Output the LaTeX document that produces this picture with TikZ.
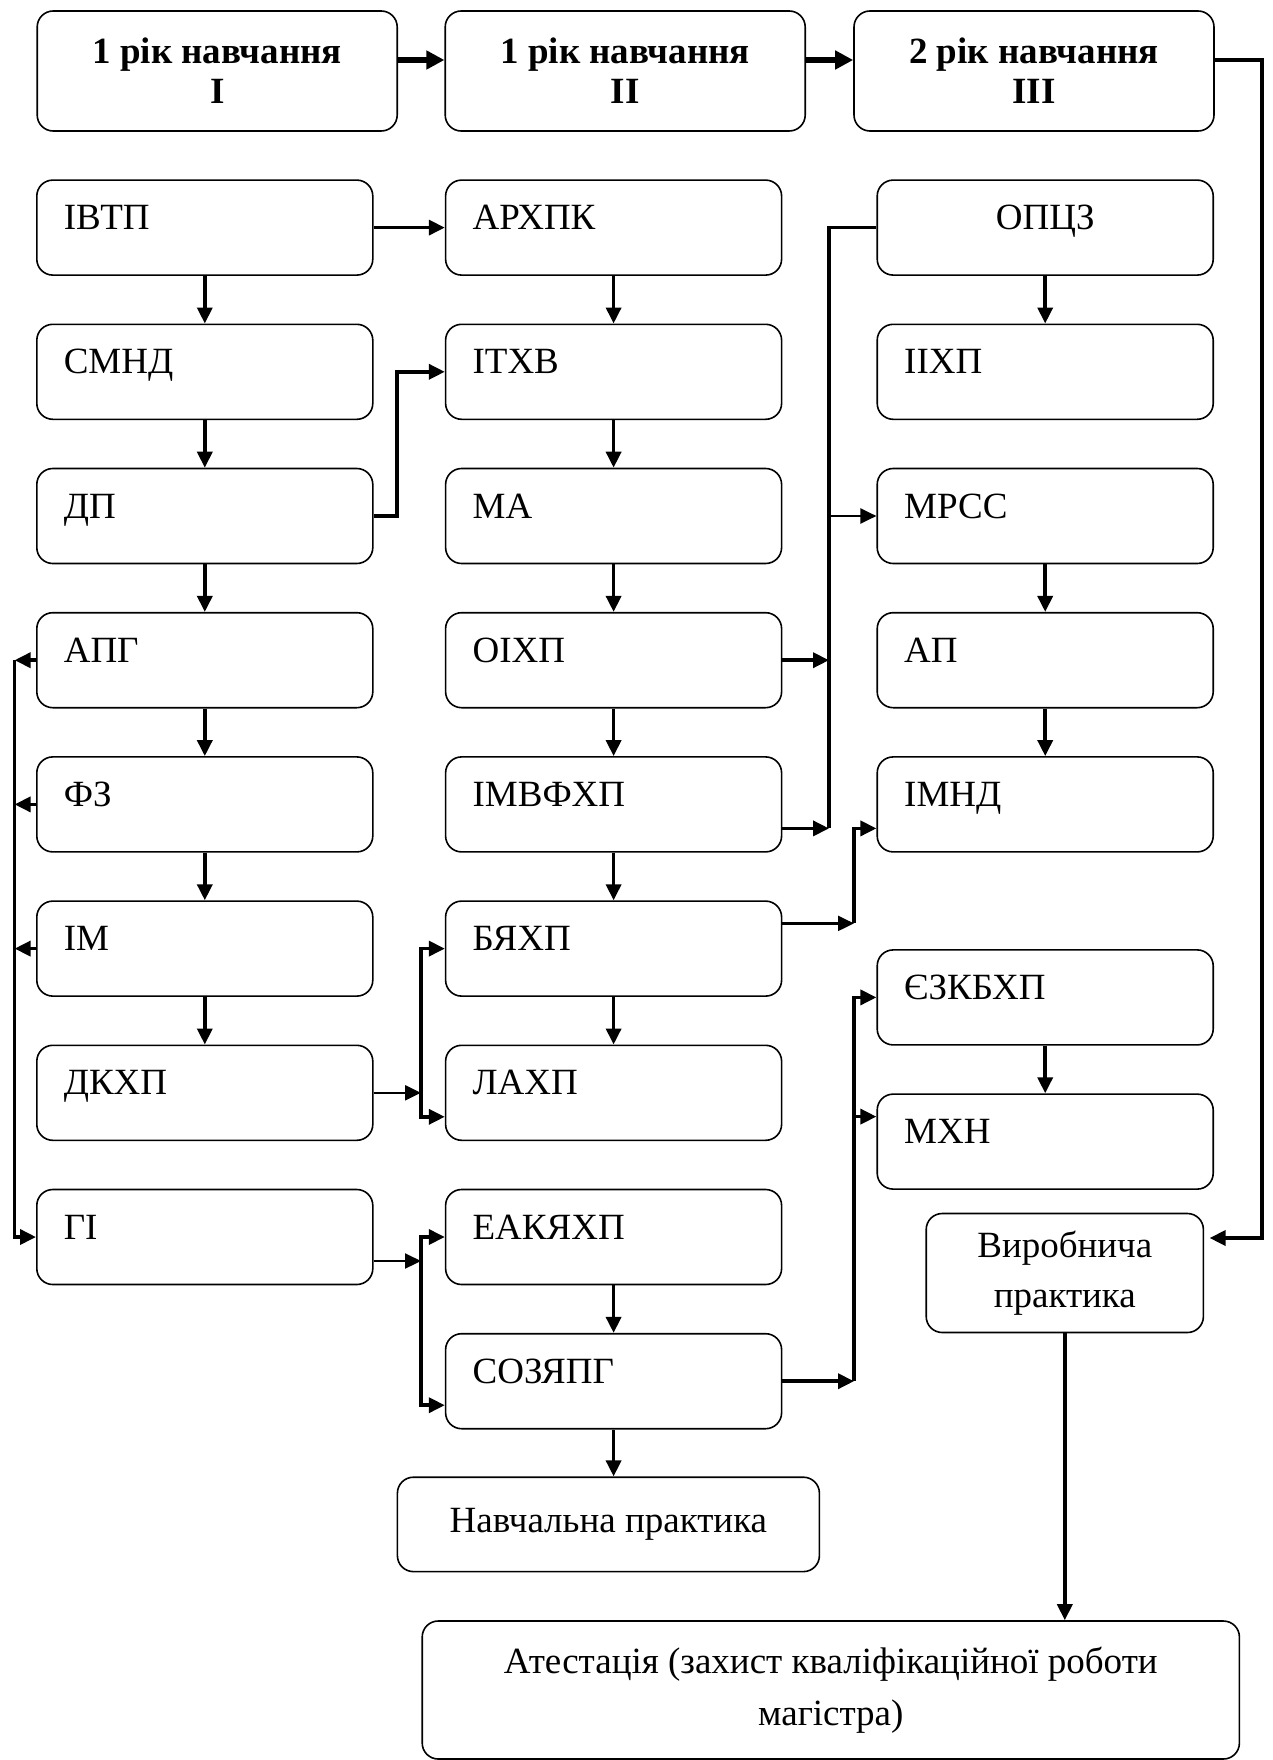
\documentclass[tikz,border=0pt]{standalone}
\usepackage{fontspec}
\setmainfont{Liberation Serif}
\usepackage{tikz}
\usetikzlibrary{arrows.meta}

\begin{document}
\begin{tikzpicture}
		[x=1pt, y=-1pt, >={Triangle[length=8pt,width=7.5pt]},
		 box/.style={draw, line width=0.8pt, rounded corners=8pt, minimum height=47.5pt,
		   text width=141pt, inner xsep=13.5pt, align=left, text height=13pt, text depth=11pt,
		   font=\fontsize{18.5pt}{22pt}\selectfont},
		 headbox/.style={draw, line width=0.8pt, rounded corners=8pt, minimum width=180pt,
		   minimum height=60pt, align=center, font=\fontsize{18.5pt}{20pt}\selectfont\bfseries},
		 pbox/.style={draw, line width=0.8pt, rounded corners=8pt, align=center,
		   font=\fontsize{18.5pt}{25pt}\selectfont},
		 arr/.style={->, line width=1.8pt},
		 tarr/.style={->, line width=1.1pt},
		 harr/.style={->, line width=2.6pt, >={Triangle[length=9pt,width=9pt]}},
		 busline/.style={line width=1.8pt}]
		\useasboundingbox (0,0) rectangle (636.5,880);
		
		\node [headbox] (h1) at (108.6,35.5) {1 рік навчання\\I};
		\node [headbox] (h2) at (312.6,35.5) {1 рік навчання\\II};
		\node [headbox] (h3) at (517,35.5) {2 рік навчання\\III};
		
		% rows every 72.1pt
		\foreach \n/\y/\t in {ivtp/113.8/ІВТП, smnd/185.9/СМНД, dp/258/ДП, apg/330.1/АПГ, fz/402.2/ФЗ, im/474.3/ІМ, dkhp/546.4/ДКХП, gi/618.5/ГІ}
		\node [box](\n) at (102.4,\y) {\t};
		\foreach \n/\y/\t in {arhpk/113.8/АРХПК, ithv/185.9/ІТХВ, ma/258/МА, oihp/330.1/ОІХП, imvfhp/402.2/ІМВФХП, byahp/474.3/БЯХП, lahp/546.4/ЛАХП, eakyahp/618.5/ЕАКЯХП, sozyapg/690.6/СОЗЯПГ}
		\node [box](\n) at (306.8,\y) {\t};
		\foreach \n/\y/\t in {iihp/185.9/ІІХП, mrss/258/МРСС, ap/330.1/АП, imnd/402.2/ІМНД, ezkbhp/498.7/ЄЗКБХП, mhn/570.8/МХН}
		\node [box](\n) at (522.6,\y) {\t};
		\node [box, align=center](opcz) at (522.6,113.8) {ОПЦЗ};
		
		\node [pbox, minimum width=211pt, minimum height=47.2pt](navch) at (304.2,762.2) {Навчальна практика};
		\node [pbox, minimum width=138.6pt, minimum height=59.5pt](vyr) at (532.4,636.5) {Виробнича\\практика};
		\node [pbox, minimum width=408.6pt, minimum height=69pt, font=\fontsize{18.5pt}{26pt}\selectfont](atest) at (415.4,845) {Атестація (захист кваліфікаційної роботи\\магістра)};
		
		\coordinate (rb) at (631,30);
		\coordinate (rbin) at (604.8,619);
		\coordinate (lb) at (7.3,330.1);
		\coordinate (dpk) at (198.5,258);
		\coordinate (b2) at (210.5,558.4);
		\coordinate (b3top) at (210.5,630.5);
		\coordinate (b3) at (210.5,702.6);
		\coordinate (b4) at (414.5,414.2);
		\coordinate (b5) at (427,461.7);
		\coordinate (b5top) at (427,414.2);
		\coordinate (b6) at (427,690.6);
		\coordinate (b6m) at (427,558.3);
		
		\draw [harr] (h1.east |- rb) -- (h2.west |- rb);
		\draw [harr] (h2.east |- rb) -- (h3.west |- rb);
		\draw [arr] (h3.east |- rb) -- (rb) |- (rbin);
		
		\foreach \from/\to in {ivtp/smnd, smnd/dp, dp/apg, apg/fz, fz/im, im/dkhp, arhpk/ithv, ithv/ma, ma/oihp, oihp/imvfhp, imvfhp/byahp, byahp/lahp, eakyahp/sozyapg, opcz/iihp, mrss/ap, ap/imnd, ezkbhp/mhn}
		\draw [arr] (\from) -- (\to);
		\draw [arr] (sozyapg) -- (sozyapg |- navch.north);
		\draw [arr] (vyr) -- (vyr |- atest.north);
		
		\draw [arr] (ivtp) -- (arhpk);
		\draw [arr] (dp.east) -- (dpk) |- (ithv.west);
		
		\foreach \b in {apg, fz, im}
		\draw [arr] (\b.west) -- (\b.west -| lb);
		\draw [arr] (lb) |- (gi.west);
		
		\draw [tarr] (dkhp.east) -- (dkhp.east -| b2);
		\draw [arr, <->] (byahp.west) -| (b2) -- (b2 -| lahp.west);
		\draw [tarr] (b3top -| gi.east) -- (b3top);
		\draw [arr, <->] (eakyahp.west) -| (b3) -- (b3 -| sozyapg.west);
		
		\draw [busline] (opcz.west) -| (b4);
		\draw [arr] (oihp.east) -- (oihp.east -| b4);
		\draw [arr] (b4 -| imvfhp.east) -- (b4);
		\draw [tarr] (mrss.west -| b4) -- (mrss.west);
		
		\draw [tarr] (b5 -| byahp.east) -- (b5);
		\draw [arr] (b5) -- (b5top) -- (b5top -| imnd.west);
		\draw [arr] (sozyapg.east) -- (b6);
		\draw [arr] (b6) |- (ezkbhp.west);
		\draw [arr] (b6m) -- (b6m -| mhn.west);
\end{tikzpicture}
\end{document}
